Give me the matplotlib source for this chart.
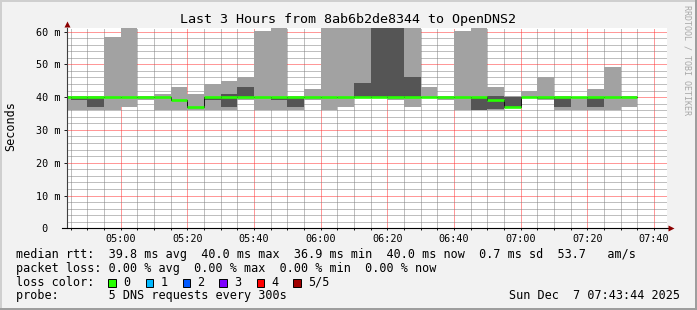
import numpy as np
import matplotlib
matplotlib.use('Agg')
from matplotlib import pyplot as plt
from matplotlib.patches import Rectangle

W, H = 697, 310

# 5-minute slots (start time of each step), 5 pings sorted: min, 2nd, median, 4th, max (ms)
slot_start = ['04:40', '04:45', '04:50', '04:55', '05:00', '05:05', '05:10', '05:15',
              '05:20', '05:25', '05:30', '05:35', '05:40', '05:45', '05:50', '05:55',
              '06:00', '06:05', '06:10', '06:15', '06:20', '06:25', '06:30', '06:35',
              '06:40', '06:45', '06:50', '06:55', '07:00', '07:05', '07:10', '07:15',
              '07:20', '07:25', '07:30']
ping_min = [36.2, 36.2, 36.2, 36.2, 37.1, 39.1, 36.2, 36.2, 36.2, 36.2, 36.2, 39.1,
            36.2, 36.2, 36.2, 39.1, 36.2, 37.1, 39.9, 39.9, 39.0, 37.1, 39.9, 39.1,
            36.2, 36.1, 36.2, 37.0, 39.9, 39.2, 36.2, 36.2, 36.2, 36.2, 37.1]
ping_lo = [40.0, 39.1, 37.1, 40.0, 40.0, 40.0, 40.0, 39.2, 36.9, 39.1, 37.1, 40.0,
           40.0, 39.1, 37.1, 40.0, 40.0, 40.0, 40.0, 40.0, 40.0, 40.0, 40.0, 40.0,
           39.8, 36.2, 36.3, 37.0, 40.0, 39.3, 37.1, 39.9, 37.1, 40.0, 40.0]
ping_med = [40.0, 40.0, 40.0, 40.0, 40.0, 40.0, 40.0, 39.2, 36.9, 40.0, 40.0, 40.0,
            40.0, 40.0, 40.0, 40.0, 40.0, 40.0, 40.0, 40.0, 40.0, 40.0, 40.0, 40.0,
            40.0, 40.0, 39.2, 37.0, 40.0, 40.0, 40.0, 40.0, 40.0, 40.0, 40.0]
ping_hi = [40.0, 40.0, 40.1, 40.0, 40.0, 40.0, 40.0, 39.2, 36.9, 40.0, 41.0, 43.2,
           40.0, 40.0, 40.0, 40.0, 40.0, 40.0, 44.3, 64.0, 64.0, 46.2, 40.0, 40.0,
           40.0, 40.0, 40.2, 40.1, 40.0, 40.0, 40.1, 40.0, 40.1, 40.0, 40.0]
ping_max = [40.2, 40.2, 40.2, 58.4, 64.0, 40.2, 41.0, 43.2, 41.0, 44.0, 45.0, 46.2,
            60.2, 64.0, 40.2, 42.5, 64.0, 64.0, 64.0, 66.0, 66.0, 64.0, 43.1, 40.2,
            60.2, 64.0, 43.0, 40.2, 42.0, 46.2, 40.2, 40.0, 42.5, 49.2, 40.2]

x_ticks = ['05:00', '05:20', '05:40', '06:00', '06:20', '06:40', '07:00', '07:20', '07:40']
y_ticks = [0, 10, 20, 30, 40, 50, 60]
y_tick_labels = [' 0', '10 m', '20 m', '30 m', '40 m', '50 m', '60 m']

loss_labels = ['0', '1', '2', '3', '4', '5/5']
loss_colors = ['#26ff00', '#00b8ff', '#0059ff', '#7e00ff', '#ff0000', '#a00000']

legend_lines = [
	'median rtt:  39.8 ms avg  40.0 ms max  36.9 ms min  40.0 ms now  0.7 ms sd  53.7   am/s',
	'packet loss: 0.00 % avg  0.00 % max  0.00 % min  0.00 % now',
	'loss color:',
	'probe:       5 DNS requests every 300s',
]
stamp = 'Sun Dec  7 07:43:44 2025'

MONO = 'DejaVu Sans Mono'


def minutes(s):
	h, m = s.split(':')
	return int(h) * 60 + int(m)


def fx(x):
	return x / W


def fy(y):
	return 1 - y / H


fig = plt.figure(figsize=(W / 100, H / 100), dpi=100)
fig.patch.set_facecolor('#f2f2f2')

# 3d-ish frame like rrdtool
fig.add_artist(Rectangle((0, fy(2)), 1, 2 / H, transform=fig.transFigure, color='#cfcfcf', lw=0))
fig.add_artist(Rectangle((0, 0), 2 / W, 1, transform=fig.transFigure, color='#cfcfcf', lw=0))
fig.add_artist(Rectangle((0, 0), 1, 2.5 / H, transform=fig.transFigure, color='#9e9e9e', lw=0))
fig.add_artist(Rectangle((fx(694.5), 0), 2.5 / W, 1, transform=fig.transFigure, color='#9e9e9e', lw=0))

left, bottom = 66.5, 228.3
ax = fig.add_axes([fx(left), fy(bottom), 600 / W, 200 / H])
ax.set_facecolor('white')

t0 = minutes('04:43') + 44 / 60.0
ax.set_xlim(t0, t0 + 180)
ax.set_ylim(0, 61.0)

t = np.array([minutes(s) for s in slot_start], dtype=float)
pmin = np.array(ping_min)
plo = np.array(ping_lo)
pmed = np.array(ping_med)
phi = np.array(ping_hi)
pmax = np.array(ping_max)

ax.bar(t, pmax - pmin, bottom=pmin, width=5, align='edge', color='#a2a2a2', linewidth=0, zorder=1)
ax.bar(t, phi - plo, bottom=plo, width=5, align='edge', color='#555555', linewidth=0, zorder=1.1)

ax.step(np.append(t, t[-1] + 5), np.append(pmed, pmed[-1]), where='post',
		color='#101010', lw=0.7, zorder=2)
ax.hlines(pmed, t, t + 5, color=loss_colors[0], lw=1.9, zorder=3)

# dotted grid
ax.set_xticks([minutes(s) for s in x_ticks])
ax.set_xticklabels(x_ticks)
ax.set_xticks(np.arange(285, 465, 5), minor=True)
ax.set_yticks(y_ticks)
ax.set_yticklabels(y_tick_labels)
ax.set_yticks(np.arange(0, 61, 2), minor=True)
ax.set_axisbelow(True)
ax.grid(which='minor', color=(0.5, 0.5, 0.5, 0.17), linestyle=(0, (1, 1)), linewidth=0.72)
ax.grid(which='major', color=(1.0, 0.2, 0.2, 0.35), linestyle=(0, (1, 1)), linewidth=0.72)

for s in ax.spines.values():
	s.set_visible(False)

ax.tick_params(axis='x', which='both', direction='out', length=1.5, width=0.72,
			   color='#202020', pad=2.5, labelsize=7.3)
ax.tick_params(axis='y', which='major', direction='out', length=2.2, width=0.72,
			   color='#202020', pad=19.8, labelsize=7.3)
ax.tick_params(axis='y', which='minor', length=0)
for lab in ax.get_xticklabels() + ax.get_yticklabels():
	lab.set_fontfamily(MONO)
for lab in ax.get_yticklabels():
	lab.set_ha('left')

# axis lines + arrows
ax.plot([0, 0], [0, 1], transform=ax.transAxes, color='#404040', lw=0.8, clip_on=False, zorder=4)
ax.plot([-4.5 / 600, 1 + 2 / 600], [0, 0], transform=ax.transAxes, color='black', lw=0.8,
		clip_on=False, zorder=4)
ax.plot([0], [1 + 4.3 / 200], transform=ax.transAxes, marker='^', ms=4, color='#8b0000',
		mec='none', clip_on=False, zorder=4)
ax.plot([1 + 4.5 / 600], [0], transform=ax.transAxes, marker='>', ms=4, color='#8b0000',
		mec='none', clip_on=False, zorder=4)

# texts
fig.text(fx(348.5), fy(23.3), 'Last 3 Hours from 8ab6b2de8344 to OpenDNS2', ha='center',
		 va='baseline', fontsize=9.6, family=MONO)
fig.text(fx(11), fy(126), 'Seconds', rotation=90, ha='center', va='center', fontsize=8.5,
		 family=MONO)
fig.text(fx(686.7), fy(60), 'RRDTOOL / TOBI OETIKER', rotation=270, ha='center', va='center',
		 fontsize=6, family=MONO, color='#a8a8a8')

FS = 8.47
for yb, s in zip([258.3, 272, 285.7, 299.3], legend_lines):
	fig.text(fx(16), fy(yb), s, ha='left', va='baseline', fontsize=FS, family=MONO)

box_x = [108.3, 145.7, 182.7, 219.3, 256.7, 293.3]
for bx, lab, col in zip(box_x, loss_labels, loss_colors):
	fig.add_artist(Rectangle((fx(bx), fy(286.7)), 7.7 / W, 7.7 / H, transform=fig.transFigure,
							 facecolor=col, edgecolor='black', lw=0.7))
	fig.text(fx(bx + 14.5), fy(285.7), lab, ha='left', va='baseline', fontsize=FS, family=MONO)

fig.text(fx(680), fy(299.3), stamp, ha='right', va='baseline', fontsize=FS, family=MONO)

fig.savefig('out.png', dpi=100, facecolor=fig.get_facecolor())
